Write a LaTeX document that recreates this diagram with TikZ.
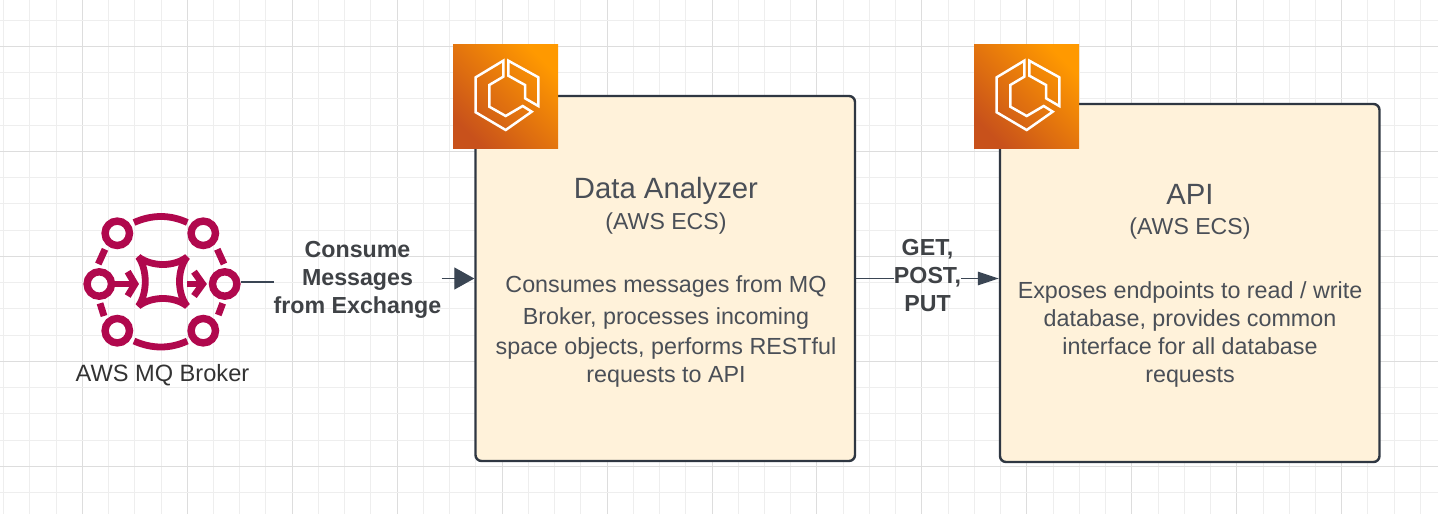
\documentclass[tikz,border=0pt]{standalone}
\usepackage{fontspec}
\setmainfont{Liberation Sans}
\usetikzlibrary{arrows.meta,shadings}
\definecolor{gridminor}{HTML}{EEEEEE}
\definecolor{gridmajor}{HTML}{DDDDDD}
\definecolor{boxfill}{HTML}{FFF2DA}
\definecolor{boxline}{HTML}{2F3742}
\definecolor{wire}{HTML}{3A4553}
\definecolor{mqred}{HTML}{B0084D}
\definecolor{txtgrey}{HTML}{4A4F57}
\definecolor{lbl}{HTML}{3F4246}
\definecolor{dark}{HTML}{333333}
\definecolor{ecslow}{HTML}{C8511B}
\definecolor{ecshigh}{HTML}{FF9900}
\tikzset{
  cardbox/.style={draw=boxline,line width=2.4pt,fill=boxfill,rounded corners=6pt,inner sep=0pt},
  ecsbox/.style={minimum width=105pt,minimum height=104.5pt,inner sep=0pt,anchor=north west,
     bottom color=ecslow,top color=ecshigh,shading angle=-45},
  titletxt/.style={anchor=base,text=txtgrey,inner sep=0pt,font=\fontsize{29.3}{34}\selectfont},
  subtxt/.style={anchor=base,text=txtgrey,inner sep=0pt,font=\fontsize{23.1}{28}\selectfont},
  bodytxt/.style={align=center,text=txtgrey,inner sep=0pt,font=\fontsize{23.3}{28}\selectfont},
  boldtxt/.style={align=center,text=lbl,inner sep=0pt,font=\bfseries\fontsize{23.2}{28}\selectfont},
  wireln/.style={draw=wire,line width=1.3pt},
  bigtip/.style={-{Triangle[length=20pt,width=22pt]}},
  smalltip/.style={-{Triangle[length=21pt,width=13.5pt]}},
  mqstroke/.style={draw=mqred,line width=6.8pt},
  ecslogo/.pic={
    \draw[white,line width=2.5pt,miter limit=6] (50.3,16.7)--(22.7,33.3)--(22.7,68.3)--(52.7,86)--(78.7,67.7)--(69.7,62)--(52.7,72)--(36.3,62.7)--(36.3,41)--(50.3,32.7)--cycle;
    \draw[white,line width=2.5pt,miter limit=6] (55.3,16.7)--(85.3,33.3)--(85.3,62)--(72,54.3)--(72,41)--(55.3,31.7)--cycle;
  }
}
\begin{document}
\begin{tikzpicture}[x=1pt,y=-1pt]
\useasboundingbox (0,0) rectangle (1438,514);
\fill[white] (0,0) rectangle (1438,514);
% grid
\foreach \k in {-3,...,51}{
  \pgfmathsetmacro{\xx}{82.3+26.2375*\k}
  \pgfmathtruncatemacro{\mm}{mod(\k+40,4)}
  \ifnum\mm=0 \draw[gridmajor,line width=1pt] (\xx,0)--(\xx,514);
  \else \draw[gridminor,line width=1pt] (\xx,0)--(\xx,514);\fi
}
\foreach \k in {-1,...,18}{
  \pgfmathsetmacro{\yy}{46.3+26.25*\k}
  \pgfmathtruncatemacro{\mm}{mod(\k+40,4)}
  \ifnum\mm=0 \draw[gridmajor,line width=1pt] (0,\yy)--(1438,\yy);
  \else \draw[gridminor,line width=1pt] (0,\yy)--(1438,\yy);\fi
}
% boxes
\node[cardbox,minimum width=379.5pt,minimum height=365pt] (box1) at (665.25,278.5) {};
\node[cardbox,minimum width=379.5pt,minimum height=358pt] (box2) at (1189.75,283) {};
\node[ecsbox] (ecs1) at (453,44) {};
\pic at (ecs1.north west) {ecslogo};
\node[ecsbox] (ecs2) at (974,44) {};
\pic at (ecs2.north west) {ecslogo};
% MQ icon
\node[minimum width=158pt,minimum height=140pt,inner sep=0pt] (mq) at (162,282) {};
\foreach \cx/\cy in {117.3/233.3,203.3/233.3,99.3/284,224.7/284,117.3/330.7,203.3/330.7}
  \draw[mqred,line width=7.4pt] (\cx,\cy) circle[radius=12.2pt];
\draw[mqstroke] (134,222.5) .. controls (152,214.5) and (170,214.5) .. (187.3,222.5);
\draw[mqstroke] (134,341) .. controls (152,349) and (170,349) .. (187.3,341);
\draw[mqstroke] (105,249.3)--(98.3,264);
\draw[mqstroke] (217.3,249.3)--(224,264);
\draw[mqstroke] (100,303.3)--(104,316);
\draw[mqstroke] (222.7,303.3)--(218.3,315);
\draw[mqstroke,line join=bevel] (138.5,257) .. controls (152,267) and (174,267) .. (187,257)
  .. controls (177,270) and (177,293) .. (187,306)
  .. controls (174,296) and (152,296) .. (138.5,306)
  .. controls (147.5,293) and (147.5,270) .. cycle;
\draw[mqstroke] (112,284)--(132,284);
\draw[mqstroke] (127.7,271.7)--(135,284)--(127.7,296);
\draw[mqstroke] (187,284)--(200,284);
\draw[mqstroke] (194,271.7)--(202.7,284)--(194,296);
% texts
\node[subtxt,text=dark,font=\fontsize{23.6}{28}\selectfont] (mqname) at (162.5,381.5) {AWS MQ Broker};
\node[titletxt] (t1) at (666,198.3) {Data Analyzer};
\node[subtxt] (s1) at (666,229) {(AWS ECS)};
\node[bodytxt] (b1) at (666,331) {Consumes messages from MQ\\[4pt]Broker, processes incoming\\[2pt]space objects, performs RESTful\\requests to API};
\node[titletxt] (t2) at (1190,204.3) {API};
\node[subtxt] (s2) at (1190,234.3) {(AWS ECS)};
\node[bodytxt] (b2) at (1190,334) {Exposes endpoints to read / write\\database, provides common\\interface for all database\\requests};
\node[boldtxt,minimum width=167.5pt] (lbl1) at (357.5,280) {Consume\\Messages\\from Exchange};
\node[boldtxt,minimum width=67pt] (lbl2) at (927.5,276) {GET,\\POST,\\PUT};
% connectors
\draw[wireln] (mq.east) -- (lbl1.west |- mq.east);
\draw[wireln,bigtip] (lbl1.east |- box1.west) -- (box1.west);
\draw[wireln] (box1.east) -- (lbl2.west |- box1.east);
\draw[wireln,smalltip] (lbl2.east |- box1.east) -- (box2.west |- box1.east);
\end{tikzpicture}
\end{document}
